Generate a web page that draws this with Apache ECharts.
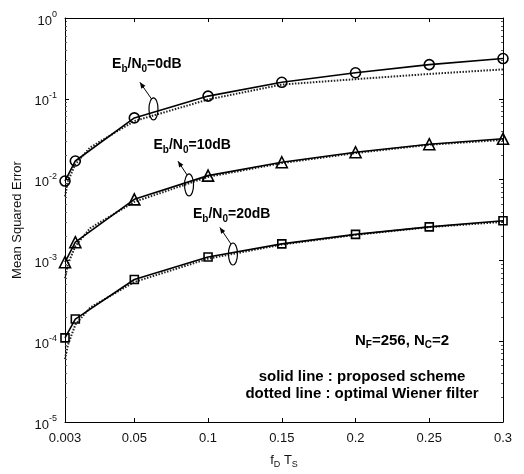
<!DOCTYPE html>
<html><head><meta charset="utf-8">
<script src="https://cdn.jsdelivr.net/npm/echarts@6/dist/echarts.min.js"></script>
<style>html,body{margin:0;padding:0;background:#fff}#c{width:524px;height:474px}</style>
</head><body><div id="c"></div>
<script>
// x values (fD*Ts) for marked (solid) curves
const xs = [0.003, 0.01, 0.05, 0.1, 0.15, 0.2, 0.25, 0.3];
// proposed scheme (solid)
const solid0 = [0.0096, 0.017, 0.058, 0.108, 0.16, 0.21, 0.265, 0.315];
const solid10 = [0.00095, 0.00168, 0.0057, 0.0112, 0.0164, 0.0218, 0.0274, 0.032];
const solid20 = [0.00011, 0.000188, 0.00058, 0.0011, 0.0016, 0.0021, 0.0026, 0.0031];
// optimal Wiener filter (dotted)
const xd = [0.003, 0.005, 0.01, 0.02, 0.05, 0.1, 0.15, 0.2, 0.25, 0.3];
const dot0 = [0.0062, 0.0095, 0.0155, 0.025, 0.053, 0.098, 0.15, 0.175, 0.203, 0.231];
const dot10 = [0.0006, 0.0009, 0.0015, 0.0025, 0.0053, 0.0108, 0.016, 0.0213, 0.027, 0.031];
const dot20 = [0.00006, 0.00009, 0.00016, 0.00026, 0.00054, 0.00105, 0.00157, 0.00207, 0.00258, 0.003];
// axis ticks
const xTicks = [0.003, 0.05, 0.1, 0.15, 0.2, 0.25, 0.3];
const yMinor = [];
for (let d = -5; d < 0; d++) for (let m = 2; m <= 9; m++) yMinor.push(+(m * Math.pow(10, d)).toPrecision(3));

const pair = (x, y) => x.map((v, i) => [v, y[i]]);
const F = 'Liberation Sans, Arial, Helvetica, sans-serif';

const chart = echarts.init(document.getElementById('c'), null, {renderer: 'canvas'});
const supLabel = v => { const e = Math.round(Math.log10(v)); return '{b|10}{e|' + e + '}'; };
const baseX = {type: 'value', min: 0.003, max: 0.3, splitLine: {show: false},
  axisLine: {show: true, onZero: false, lineStyle: {color: '#000', width: 1}}};
const baseY = {type: 'log', logBase: 10, min: 1e-5, max: 1, splitLine: {show: false},
  axisLine: {show: true, lineStyle: {color: '#000', width: 1}}};
const option = {
  animation: false,
  backgroundColor: '#fff',
  grid: {left: 65, top: 18, right: 21, bottom: 47},
  xAxis: [
    Object.assign({}, baseX, {position: 'bottom',
      axisTick: {show: true, inside: true, length: 4, customValues: xTicks, lineStyle: {color: '#000'}},
      axisLabel: {show: true, customValues: xTicks, color: '#111', fontFamily: F, fontSize: 13, margin: 10,
        formatter: v => String(+v.toFixed(3))},
      name: '{a|f}{s|D}{a| T}{s|S}', nameLocation: 'middle', nameGap: 30,
      nameTextStyle: {rich: {a: {fontFamily: F, fontSize: 13, color: '#111'},
        s: {fontFamily: F, fontSize: 9, color: '#111', padding: [8, 0, 0, 0]}}}}),
    Object.assign({}, baseX, {position: 'top',
      axisTick: {show: true, inside: true, length: 4, customValues: xTicks, lineStyle: {color: '#000'}},
      axisLabel: {show: false}})
  ],
  yAxis: [
    Object.assign({}, baseY, {position: 'left',
      axisTick: {show: true, inside: true, length: 4, lineStyle: {color: '#000'}},
      axisLabel: {show: true, color: '#111', margin: 8, formatter: supLabel,
        rich: {b: {fontFamily: F, fontSize: 13, color: '#111', padding: [6, 0, 0, 0]},
               e: {fontFamily: F, fontSize: 9, color: '#111', padding: [0, 0, 6, 0]}}},
      name: 'Mean Squared Error', nameLocation: 'middle', nameGap: 31,
      nameTextStyle: {fontFamily: F, fontSize: 13, color: '#111'}}),
    Object.assign({}, baseY, {position: 'right',
      axisTick: {show: true, inside: true, length: 4, lineStyle: {color: '#000'}},
      axisLabel: {show: false}}),
    Object.assign({}, baseY, {position: 'left', axisLine: {show: false},
      axisTick: {show: true, inside: true, length: 2, customValues: yMinor, lineStyle: {color: '#555'}},
      axisLabel: {show: false}}),
    Object.assign({}, baseY, {position: 'right', axisLine: {show: false},
      axisTick: {show: true, inside: true, length: 2, customValues: yMinor, lineStyle: {color: '#555'}},
      axisLabel: {show: false}})
  ],
  series: [
    {type: 'line', data: pair(xd, dot0), showSymbol: false, symbol: 'none', lineStyle: {color: '#222', width: 2, type: [1.5, 1.5]}, z: 2},
    {type: 'line', data: pair(xd, dot10), showSymbol: false, symbol: 'none', lineStyle: {color: '#222', width: 2, type: [1.5, 1.5]}, z: 2},
    {type: 'line', data: pair(xd, dot20), showSymbol: false, symbol: 'none', lineStyle: {color: '#222', width: 2, type: [1.5, 1.5]}, z: 2},
    {type: 'line', data: pair(xs, solid0), symbol: 'circle', symbolSize: 10, lineStyle: {color: '#000', width: 1.6},
      itemStyle: {color: 'rgba(255,255,255,0)', borderColor: '#000', borderWidth: 1.6}, z: 3},
    {type: 'line', data: pair(xs, solid10), symbol: 'triangle', symbolSize: 11, lineStyle: {color: '#000', width: 1.6},
      itemStyle: {color: 'rgba(255,255,255,0)', borderColor: '#000', borderWidth: 1.6}, z: 3},
    {type: 'line', data: pair(xs, solid20), symbol: 'rect', symbolSize: 8, lineStyle: {color: '#000', width: 1.6},
      itemStyle: {color: 'rgba(255,255,255,0)', borderColor: '#000', borderWidth: 1.6}, z: 3}
  ]
};
chart.setOption(option);

// annotations positioned in data coordinates
const px = (x, y) => chart.convertToPixel({xAxisIndex: 0, yAxisIndex: 0}, [x, y]);
function ebLabel(text, p) {
  return {type: 'text', x: p[0], y: p[1], z: 10, style: {
    text: '{a|E}{s|b}{a|/N}{s|0}{a|=' + text + '}',
    rich: {a: {fontFamily: F, fontSize: 14, fontWeight: 'bold', fill: '#000'},
           s: {fontFamily: F, fontSize: 10, fontWeight: 'bold', fill: '#000', padding: [9, 0, 0, 0]}},
    verticalAlign: 'middle'}};
}
function arrowHead(x1, y1, x2, y2) {
  const a = Math.atan2(y2 - y1, x2 - x1), L = 6, W = 2.5;
  const bx = x2 - L * Math.cos(a), by = y2 - L * Math.sin(a);
  return [[x2, y2], [bx + W * Math.sin(a), by - W * Math.cos(a)], [bx - W * Math.sin(a), by + W * Math.cos(a)]];
}
function pointer(c, tip) {
  const sx = c[0] - 2, sy = c[1] - 10;
  return [
    {type: 'ellipse', shape: {cx: c[0], cy: c[1], rx: 4.5, ry: 11}, style: {fill: 'none', stroke: '#000', lineWidth: 1.2}, z: 10},
    {type: 'line', shape: {x1: sx, y1: sy, x2: tip[0], y2: tip[1]}, style: {stroke: '#000', lineWidth: 1}, z: 10},
    {type: 'polygon', shape: {points: arrowHead(sx, sy, tip[0], tip[1])}, style: {fill: '#000'}, z: 10}
  ];
}
const g = [];
g.push(ebLabel('0dB', px(0.0349, 0.266)));
g.push(ebLabel('10dB', px(0.063, 0.0265)));
g.push(ebLabel('20dB', px(0.0898, 0.00369)));
g.push(...pointer(px(0.063, 0.075), px(0.0538, 0.16)));
g.push(...pointer(px(0.0871, 0.0086), px(0.0796, 0.0169)));
g.push(...pointer(px(0.1169, 0.0012), px(0.108, 0.00256)));
const np = px(0.1996, 0.0001);
g.push({type: 'text', x: np[0], y: np[1], z: 10, style: {
  text: '{a|N}{s|F}{a|=256, N}{s|C}{a|=2}',
  rich: {a: {fontFamily: F, fontSize: 15, fontWeight: 'bold', fill: '#000'},
         s: {fontFamily: F, fontSize: 10, fontWeight: 'bold', fill: '#000', padding: [9, 0, 0, 0]}},
  verticalAlign: 'middle'}});
const s1 = px(0.2044, 3.65e-5), s2 = px(0.2044, 2.26e-5);
g.push({type: 'text', x: s1[0], y: s1[1], z: 10, style: {text: 'solid line : proposed scheme', fontFamily: F, fontSize: 15, fontWeight: 'bold', fill: '#000', align: 'center', verticalAlign: 'middle'}});
g.push({type: 'text', x: s2[0], y: s2[1], z: 10, style: {text: 'dotted line : optimal Wiener filter', fontFamily: F, fontSize: 15, fontWeight: 'bold', fill: '#000', align: 'center', verticalAlign: 'middle'}});
chart.setOption({graphic: g});
</script></body></html>
